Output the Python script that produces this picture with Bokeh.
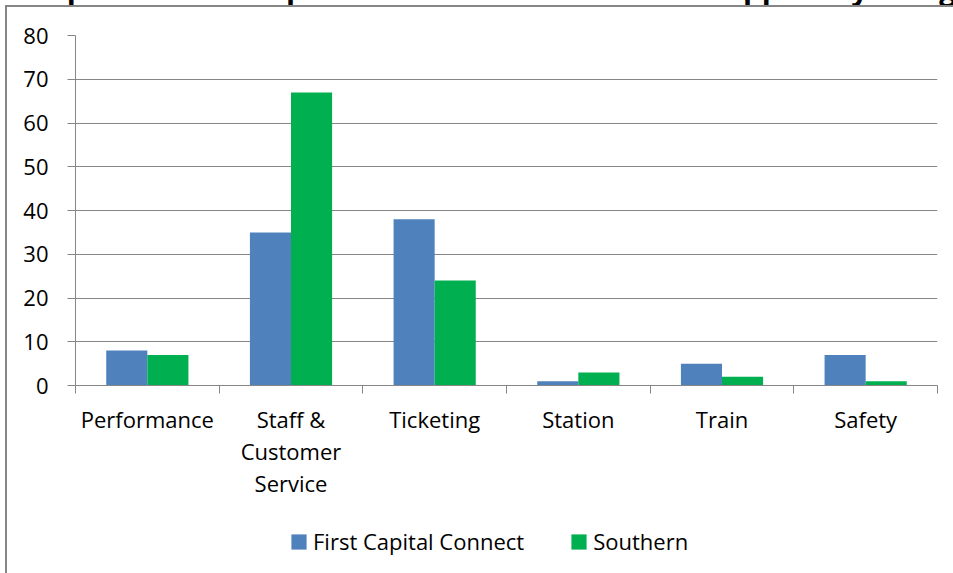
from bokeh.plotting import figure
from bokeh.layouts import column
from bokeh.models import (FactorRange, Range1d, LinearAxis, FixedTicker,
                          Legend, LegendItem, ColumnDataSource, InlineStyleSheet)
from bokeh.transform import dodge
from bokeh.embed import file_html
from bokeh.resources import INLINE

categories = ["Performance", "Staff & Customer Service", "Ticketing", "Station", "Train", "Safety"]
label_rows = [
    ["Performance", "Staff &", "Ticketing", "Station", "Train", "Safety"],
    ["", "Customer", "", "", "", ""],
    ["", "Service", "", "", "", ""],
]
series_names = ["First Capital Connect", "Southern"]
fcc = [8, 35, 38, 1, 5, 7]
southern = [7, 67, 24, 3, 2, 1]
y_ticks = [0, 10, 20, 30, 40, 50, 60, 70, 80]
title_text = "Comparison of complaints received and taken to appeal by category"

FONT = "Open Sans"
GRAY = "#868686"
BLUE = "#4F81BD"
GREEN = "#00B050"
SHIFT = 62  # part of the figure hidden above the window (cut-off title)

src = ColumnDataSource(dict(cat=categories, fcc=fcc, southern=southern))
n = len(categories)

p = figure(width=953, height=SHIFT + 510, x_range=FactorRange(*categories), y_range=Range1d(0, 80),
           output_backend="svg", toolbar_location=None, x_axis_location=None,
           min_border_left=75, min_border_right=16, min_border_top=35 + SHIFT, min_border_bottom=125)
p.outline_line_color = None
p.background_fill_color = "white"
p.border_fill_color = "white"
p.stylesheets = [InlineStyleSheet(css="""
:host { position: relative; }
:host::after { content: ""; position: absolute; left: 5px; top: %dpx; right: 0px; bottom: 0px;
  border-left: 2px solid #868686; border-top: 2px solid #868686; pointer-events: none; }
""" % (5 + SHIFT))]

# title (only its descenders show in the reference)
p.title.text = title_text
p.title.text_font = FONT
p.title.text_font_style = "bold"
p.title.text_font_size = "29.6px"
p.title.text_color = "black"
p.title.align = "left"
p.title.offset = -75
p.title.standoff = 53

p.vbar(x=dodge("cat", -0.143, range=p.x_range), top="fcc", width=0.286, source=src,
       fill_color=BLUE, line_color=None)
p.vbar(x=dodge("cat", 0.143, range=p.x_range), top="southern", width=0.286, source=src,
       fill_color=GREEN, line_color=None)

# y axis
ya = p.yaxis[0]
ya.ticker = FixedTicker(ticks=y_ticks)
ya.axis_line_color = GRAY
ya.major_tick_line_color = GRAY
ya.major_tick_out = 8
ya.major_tick_in = 0
ya.minor_tick_line_color = None
ya.major_label_standoff = 19
ya.major_label_text_font = FONT
ya.major_label_text_font_size = "22px"
ya.major_label_text_color = "black"
p.ygrid.ticker = FixedTicker(ticks=y_ticks)
p.ygrid.grid_line_color = GRAY
p.xgrid.grid_line_color = None

# x axes: labels at category centres, ticks at category boundaries
centres = [i + 0.5 for i in range(n)]
for row_i, row in enumerate(label_rows):
    ticks = [c for c, t in zip(centres, row) if t]
    ax = LinearAxis(ticker=FixedTicker(ticks=ticks, minor_ticks=list(range(n + 1)) if row_i == 0 else []),
                    major_label_overrides={c: t for c, t in zip(centres, row) if t},
                    major_tick_out=0, major_tick_in=0, major_tick_line_color=None,
                    minor_tick_out=8 if row_i == 0 else 0, minor_tick_in=0,
                    minor_tick_line_color=GRAY if row_i == 0 else None,
                    axis_line_color=GRAY if row_i == 0 else None,
                    major_label_text_font=FONT, major_label_text_font_size="22px",
                    major_label_text_color="black",
                    major_label_standoff=10 if row_i == 0 else -1)
    p.add_layout(ax, "below")

# legend strip below the chart
lf = figure(width=953, height=63, x_range=FactorRange(*categories), y_range=Range1d(1000, 1001),
            output_backend="svg", toolbar_location=None, x_axis_location=None, y_axis_location=None,
            min_border=0, min_border_left=0, min_border_right=0, min_border_top=0, min_border_bottom=0)
lf.outline_line_color = None
lf.grid.grid_line_color = None
lf.background_fill_color = "white"
lf.border_fill_color = "white"
lf.stylesheets = [InlineStyleSheet(css="""
:host { position: relative; }
:host::after { content: ""; position: absolute; left: 5px; top: 0px; bottom: 0px; width: 0px;
  border-left: 2px solid #868686; pointer-events: none; }
""")]
l1 = lf.vbar(x=dodge("cat", -0.143, range=lf.x_range), top="fcc", width=0.286, source=src,
             fill_color=BLUE, line_color=None)
l2 = lf.vbar(x=dodge("cat", 0.143, range=lf.x_range), top="southern", width=0.286, source=src,
             fill_color=GREEN, line_color=None)
legend = Legend(items=[LegendItem(label=series_names[0], renderers=[l1]),
                       LegendItem(label=series_names[1], renderers=[l2])],
                orientation="horizontal", location=(214, 17), glyph_width=19, glyph_height=19,
                label_standoff=5, spacing=45, padding=0, margin=0, border_line_color=None,
                background_fill_alpha=0, label_text_font=FONT, label_text_font_size="22px",
                label_text_color="black")
lf.add_layout(legend, "center")

layout = column(p, lf, spacing=0)
layout.styles = {"margin-top": f"-{SHIFT}px"}

open("out.html", "w").write(file_html(layout, INLINE))
